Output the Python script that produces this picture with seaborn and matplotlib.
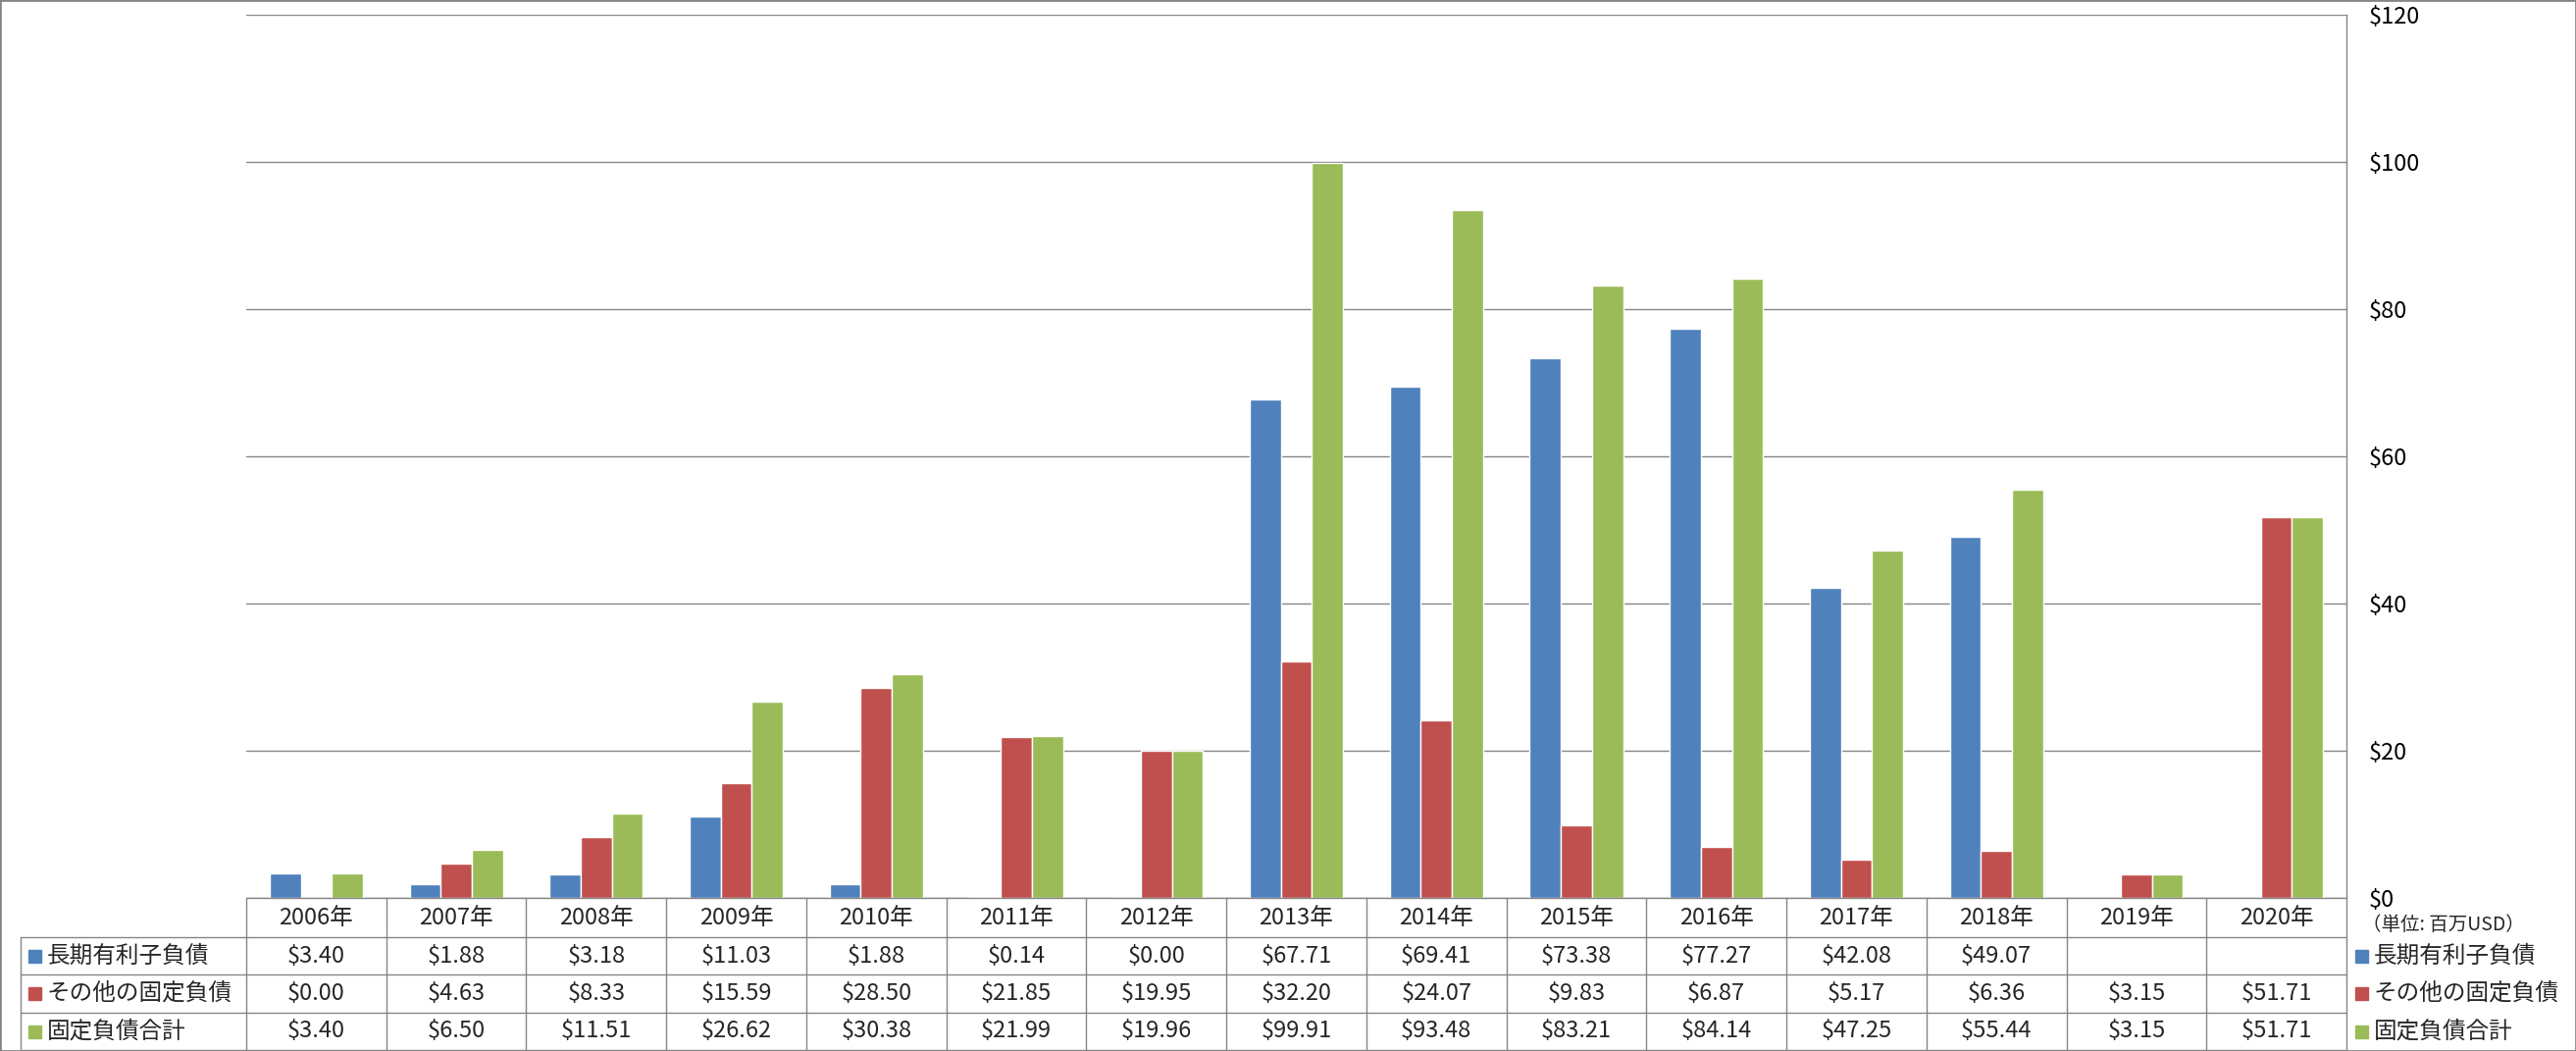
import numpy as np
import pandas as pd
import matplotlib
matplotlib.use("Agg")
import matplotlib.pyplot as plt
import seaborn as sns
from matplotlib.patches import Rectangle
from matplotlib.ticker import FuncFormatter

years = ["2006年", "2007年", "2008年", "2009年", "2010年", "2011年", "2012年", "2013年",
         "2014年", "2015年", "2016年", "2017年", "2018年", "2019年", "2020年"]
series_names = ["長期有利子負債", "その他の固定負債", "固定負債合計"]
long_term_debt = [3.40, 1.88, 3.18, 11.03, 1.88, 0.14, 0.00, 67.71, 69.41, 73.38, 77.27, 42.08, 49.07, np.nan, np.nan]
other_fixed = [0.00, 4.63, 8.33, 15.59, 28.50, 21.85, 19.95, 32.20, 24.07, 9.83, 6.87, 5.17, 6.36, 3.15, 51.71]
total_fixed = [3.40, 6.50, 11.51, 26.62, 30.38, 21.99, 19.96, 99.91, 93.48, 83.21, 84.14, 47.25, 55.44, 3.15, 51.71]
colors = ["#4F81BD", "#C0504D", "#9BBB59"]
unit_label = "（単位: 百万USD）"

sns.set_theme(style="white")
plt.rcParams["font.family"] = ["Noto Sans CJK JP", "DejaVu Sans"]

values = [long_term_debt, other_fixed, total_fixed]
df = pd.DataFrame({
    "year": np.tile(years, 3),
    "series": np.repeat(series_names, len(years)),
    "value": np.concatenate(values),
}).dropna()

W, H = 2626, 1071
gray = "#868686"
fs = 17
fig = plt.figure(figsize=(W / 100, H / 100), dpi=100)

# plot area and data table area (pixel layout of the original)
left, right, top, zero = 251, 2392, 15, 915
tbl_bottom = 1070
ax = fig.add_axes([left / W, (H - zero) / H, (right - left) / W, (zero - top) / H])
tax = fig.add_axes([left / W, (H - tbl_bottom) / H, (right - left) / W, (tbl_bottom - zero) / H])

sns.barplot(data=df, x="year", y="value", hue="series", order=years, hue_order=series_names,
            palette=colors, saturation=1, width=3 / 4.5, errorbar=None, legend=False, ax=ax)

ax.set_xlim(-0.5, len(years) - 0.5)
ax.set_ylim(0, 120)
ax.set_yticks(range(0, 121, 20))
ax.yaxis.set_major_formatter(FuncFormatter(lambda v, p: f"${v:.0f}"))
ax.yaxis.tick_right()
ax.tick_params(axis="y", length=0, pad=16.5, labelsize=fs, labelcolor="black")
ax.tick_params(axis="x", bottom=False, labelbottom=False)
ax.set_xlabel("")
ax.set_ylabel("")
ax.grid(axis="y", color=gray, lw=1)
ax.set_axisbelow(True)
for s in ["left", "top", "bottom"]:
    ax.spines[s].set_visible(False)
ax.spines["right"].set_color(gray)
ax.spines["right"].set_linewidth(1)

# data table
tax.set_xlim(-0.5, len(years) - 0.5)
tax.set_ylim(tbl_bottom, zero)
tax.axis("off")
col_px = (right - left) / len(years)
px = lambda p: -0.5 + (p - left) / col_px
row_edges = [915, 955, 993, 1032, 1070]
lab_left = px(21)
line_kw = dict(color=gray, lw=1, clip_on=False)

tax.plot([-0.5, len(years) - 0.5], [row_edges[0]] * 2, **line_kw)
for y in row_edges[1:]:
    tax.plot([lab_left, len(years) - 0.5], [y, y], **line_kw)
for i in range(len(years) + 1):
    tax.plot([i - 0.5, i - 0.5], [row_edges[0], row_edges[-1]], **line_kw)
tax.plot([lab_left, lab_left], [row_edges[1], row_edges[-1]], **line_kw)

hdr_y = (row_edges[0] + row_edges[1]) / 2
for i, yr in enumerate(years):
    tax.text(i, hdr_y, yr, ha="center", va="center", fontsize=fs, clip_on=False)

sq = 13
for r, (name, vals, c) in enumerate(zip(series_names, values, colors)):
    yc = (row_edges[r + 1] + row_edges[r + 2]) / 2
    for i, v in enumerate(vals):
        if not np.isnan(v):
            tax.text(i, yc, f"${v:.2f}", ha="center", va="center", fontsize=fs, clip_on=False)
    # row label with colour key
    tax.add_patch(Rectangle((px(29), yc - sq / 2), sq / col_px, sq, color=c, clip_on=False))
    tax.text(px(48), yc, name, ha="left", va="center", fontsize=fs, clip_on=False)
    # legend on the right
    tax.add_patch(Rectangle((px(2401), yc - sq / 2), sq / col_px, sq, color=c, clip_on=False))
    tax.text(px(2420), yc, name, ha="left", va="center", fontsize=fs, clip_on=False)

tax.text(px(2408), 943, unit_label, ha="left", va="center", fontsize=14, clip_on=False)

fig.patches.append(Rectangle((0, 0), 1, 1, transform=fig.transFigure, fill=False, ec=gray, lw=2))

fig.savefig("out.png", dpi=100)
